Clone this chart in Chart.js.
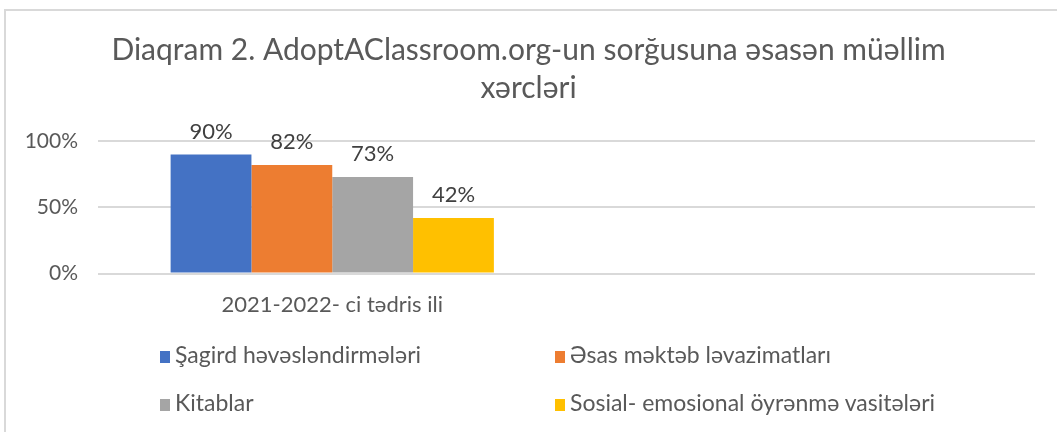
<!DOCTYPE html>
<html>
<head>
<meta charset="utf-8">
<script src="https://cdn.jsdelivr.net/npm/chart.js@4"></script>
<style>
  html, body { margin: 0; padding: 0; background: #fff; }
  #wrap { position: relative; width: 1057px; height: 432px; overflow: hidden; }
  #frame { position: absolute; left: 4px; top: 9px; width: 1100px; height: 500px;
           border-left: 2px solid #d9d9d9; border-top: 2px solid #d9d9d9; }
  #legend { position: absolute; left: 160px; top: 341px; width: 850px;
            display: grid; grid-template-columns: 395px 420px; row-gap: 22px;
            font-family: Lato, "Open Sans", sans-serif; font-size: 23px; color: #595959; line-height: 26px; }
  #legend span.box { display: inline-block; width: 10px; height: 12px; margin-right: 5px; vertical-align: 0px; }
</style>
</head>
<body>
<div id="wrap">
  <div id="frame"></div>
  <canvas id="chart" width="1057" height="432"></canvas>
  <div id="legend"></div>
</div>
<script>
const categories = ['2021-2022- ci tədris ili', ''];
const seriesNames = ['Şagird həvəsləndirmələri', 'Əsas məktəb ləvazimatları', 'Kitablar', 'Sosial- emosional öyrənmə vasitələri'];
const seriesValues = [[0.90, null], [0.82, null], [0.73, null], [0.42, null]];
const seriesColors = ['#4472c4', '#ed7d31', '#a5a5a5', '#ffc000'];
const yTicks = [0, 0.5, 1];
const titleLines = ['Diaqram 2. AdoptAClassroom.org-un sorğusuna əsasən müəllim', 'xərcləri'];

const font = 'Lato, "Open Sans", sans-serif';

// value labels above bars
const barLabels = {
    id: 'barLabels',
    afterDatasetsDraw(chart) {
        const ctx = chart.ctx;
        ctx.save();
        ctx.font = '22px ' + font;
        ctx.fillStyle = '#404040';
        ctx.textAlign = 'center';
        ctx.textBaseline = 'bottom';
        chart.data.datasets.forEach((ds, i) => {
            chart.getDatasetMeta(i).data.forEach((bar, j) => {
                if (ds.data[j] == null) return;
                ctx.fillText(Math.round(ds.data[j] * 100) + '%', bar.x, bar.y - 12);
            });
        });
        ctx.restore();
    }
};

const chart = new Chart(document.getElementById('chart'), {
    type: 'bar',
    data: {
        labels: categories,
        datasets: seriesNames.map((name, i) => ({
            label: name,
            data: seriesValues[i],
            backgroundColor: seriesColors[i],
            categoryPercentage: 0.69,
            barPercentage: 1
        }))
    },
    options: {
        responsive: false,
        animation: false,
        layout: { padding: { top: 8, left: 22, right: 22, bottom: 96 } },
        scales: {
            y: {
                min: 0, max: 1,
                afterBuildTicks: axis => { axis.ticks = yTicks.map(v => ({ value: v })); },
                afterFit: axis => { axis.width = 76; },
                ticks: {
                    callback: v => Math.round(v * 100) + '%',
                    color: '#595959',
                    font: { size: 21, family: font },
                    padding: 20
                },
                grid: { color: '#d9d9d9', lineWidth: 2, drawTicks: false },
                border: { display: false }
            },
            x: {
                ticks: { color: '#595959', font: { size: 22, family: font }, padding: 18 },
                grid: { display: false, drawTicks: false },
                border: { display: false }
            }
        },
        plugins: {
            legend: { display: false },
            tooltip: { enabled: false },
            title: {
                display: true,
                text: titleLines,
                color: '#595959',
                font: { size: 30, family: font, weight: 'normal', lineHeight: 1.27 },
                padding: { top: 23, bottom: 34 }
            }
        }
    },
    plugins: [barLabels]
});

// legend in two columns
const legendEl = document.getElementById('legend');
seriesNames.forEach((name, i) => {
    const item = document.createElement('div');
    item.innerHTML = '<span class="box" style="background:' + seriesColors[i] + '"></span>' + name;
    legendEl.appendChild(item);
});
</script>
</body>
</html>
